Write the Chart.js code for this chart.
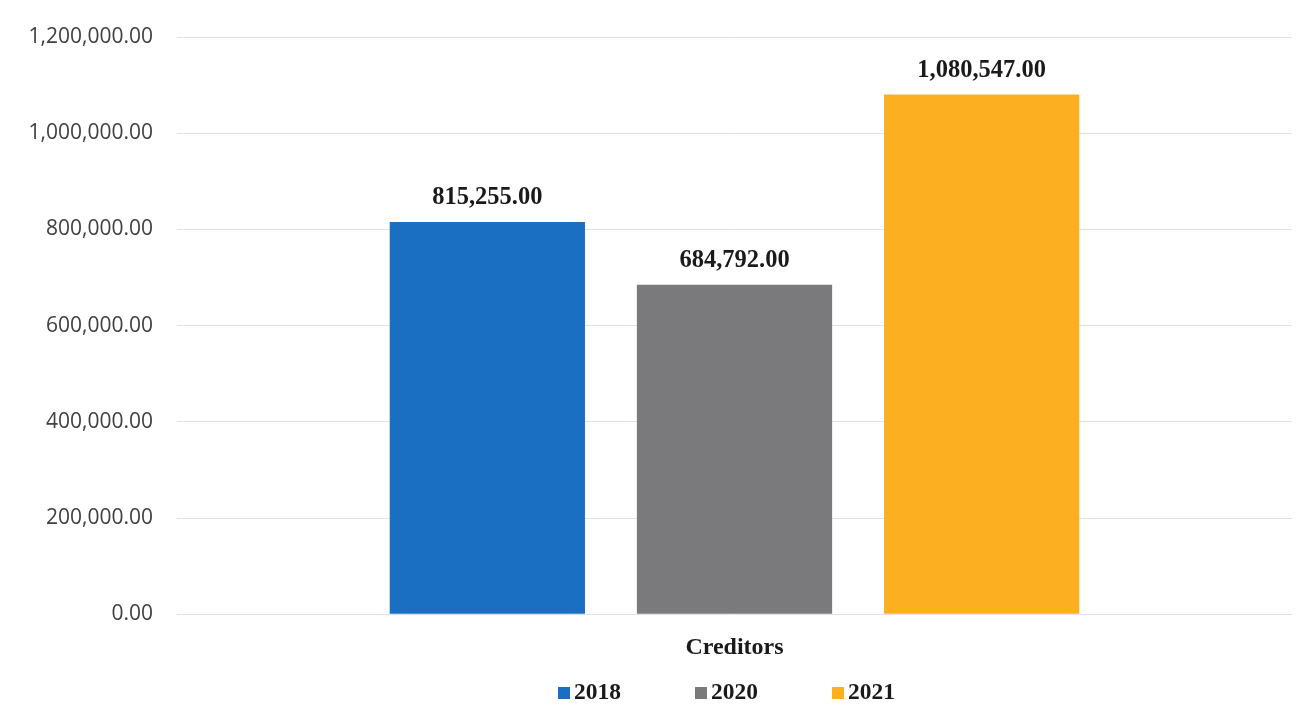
<!DOCTYPE html>
<html>
<head>
<meta charset="utf-8">
<script src="https://cdn.jsdelivr.net/npm/chart.js@4.4.1/dist/chart.umd.min.js"></script>
<style>
  html,body{margin:0;padding:0;background:#ffffff;}
  #wrap{width:1309px;height:726px;position:relative;}
</style>
</head>
<body>
<div id="wrap"><canvas id="c" width="1309" height="726"></canvas></div>
<script>
const categories = ['Creditors'];
const seriesNames = ['2018', '2020', '2021'];
const values2018 = [815255];
const values2020 = [684792];
const values2021 = [1080547];
const seriesColors = ['#1b6fc2', '#7a7a7d', '#fdaf22'];
const yTickMax = 1200000;
const yTickStep = 200000;

const fmt = v => Number(v).toLocaleString('en-US', {minimumFractionDigits: 2, maximumFractionDigits: 2});
const serifFamily = "'Liberation Serif', 'Times New Roman', serif";

const dataLabelPlugin = {
  id: 'dataLabels',
  afterDatasetsDraw(chart) {
    const ctx = chart.ctx;
    ctx.save();
    ctx.font = `bold 24.5px ${serifFamily}`;
    ctx.fillStyle = '#1a1a1a';
    ctx.textAlign = 'center';
    ctx.textBaseline = 'bottom';
    chart.data.datasets.forEach((ds, i) => {
      chart.getDatasetMeta(i).data.forEach((bar, j) => {
        ctx.fillText(fmt(ds.data[j]), bar.x, bar.y - 12);
      });
    });
    ctx.restore();
  }
};

const bottomLegendPlugin = {
  id: 'bottomLegend',
  afterDraw(chart) {
    const ctx = chart.ctx;
    const area = chart.chartArea;
    const spacing = 137;
    const box = 12;
    const n = chart.data.datasets.length;
    const cx = (area.left + area.right) / 2 - 8;
    const y = 693;
    ctx.save();
    ctx.font = `bold 23.5px ${serifFamily}`;
    ctx.textBaseline = 'middle';
    ctx.textAlign = 'left';
    chart.data.datasets.forEach((ds, i) => {
      const itemW = box + 4 + ctx.measureText(ds.label).width;
      const x0 = cx + (i - (n - 1) / 2) * spacing - itemW / 2;
      ctx.fillStyle = ds.backgroundColor;
      ctx.fillRect(x0, y - box / 2, box, box);
      ctx.fillStyle = '#1a1a1a';
      ctx.fillText(ds.label, x0 + box + 4, y);
    });
    ctx.restore();
  }
};

new Chart(document.getElementById('c'), {
  type: 'bar',
  data: {
    labels: categories,
    datasets: [
      {label: seriesNames[0], data: values2018, backgroundColor: seriesColors[0]},
      {label: seriesNames[1], data: values2020, backgroundColor: seriesColors[1]},
      {label: seriesNames[2], data: values2021, backgroundColor: seriesColors[2]}
    ]
  },
  options: {
    responsive: false,
    animation: false,
    devicePixelRatio: 1,
    layout: {padding: {left: 0, right: 17, top: 37, bottom: 53}},
    datasets: {bar: {barPercentage: 0.79, categoryPercentage: 0.665}},
    plugins: {
      legend: {display: false},
      tooltip: {enabled: false}
    },
    scales: {
      x: {
        grid: {display: false},
        border: {display: false},
        ticks: {font: {family: serifFamily, size: 24, weight: 'bold'}, color: '#1a1a1a', padding: 11}
      },
      y: {
        min: 0,
        max: yTickMax,
        afterFit(scale) { scale.width = 177; },
        grid: {color: '#e2e0ee', lineWidth: 1, drawTicks: false},
        border: {display: false},
        ticks: {
          stepSize: yTickStep,
          padding: 24,
          color: '#404040',
          font: {family: "'Open Sans', 'Noto Sans', sans-serif", size: 21},
          callback: v => fmt(v)
        }
      }
    }
  },
  plugins: [dataLabelPlugin, bottomLegendPlugin]
});
</script>
</body>
</html>
